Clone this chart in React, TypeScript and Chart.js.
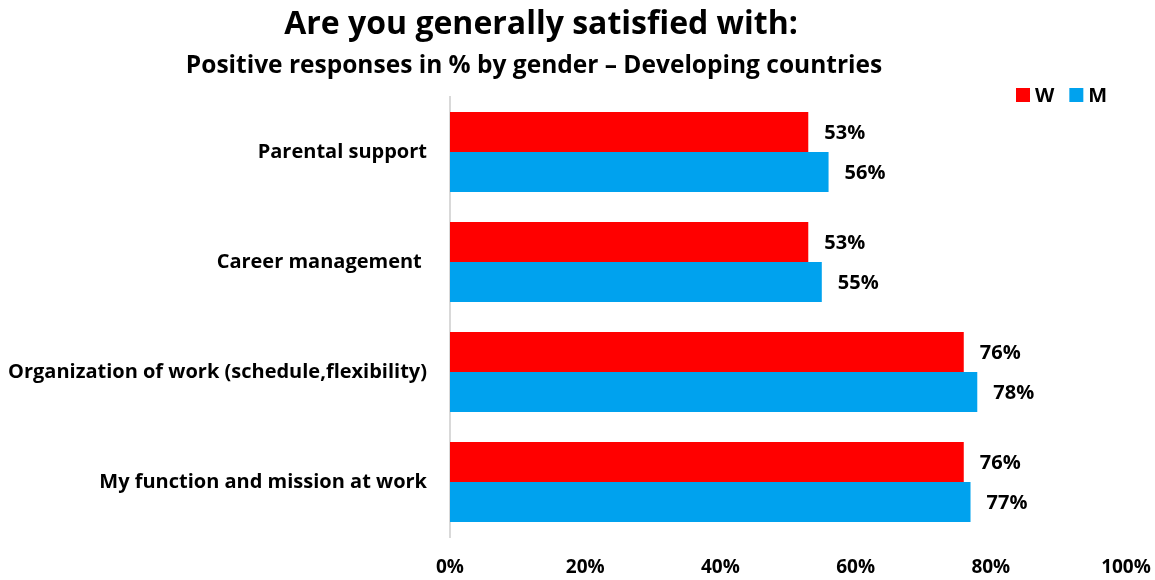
import React, { useEffect, useRef } from "react";
import { Chart, registerables } from "chart.js";

Chart.register(...registerables);

const categories = [
  "Parental support",
  "Career management ",
  "Organization of work (schedule,flexibility)",
  "My function and mission at work",
];
const womenValues = [53, 53, 76, 76];
const menValues = [56, 55, 78, 77];
const seriesLabels = ["W", "M"];
const xTicks = [0, 20, 40, 60, 80, 100];

const titleText = "Are you generally satisfied with:";
const subtitleText = "Positive responses in % by gender \u2013 Developing countries";

const FONT = "'Open Sans', sans-serif";
const RED = "#FF0000";
const BLUE = "#00A2EE";

const titlePlugin = {
  id: "customTitle",
  afterDraw(chart: any) {
    const ctx = chart.ctx;
    ctx.save();
    ctx.fillStyle = "#000";
    ctx.textAlign = "center";
    ctx.textBaseline = "alphabetic";
    ctx.font = `bold 32px ${FONT}`;
    ctx.fillText(titleText, 541, 34);
    ctx.font = `bold 24.5px ${FONT}`;
    ctx.fillText(subtitleText, 534, 73);
    ctx.restore();
  },
};

const legendPlugin = {
  id: "customLegend",
  afterDraw(chart: any) {
    const ctx = chart.ctx;
    ctx.save();
    ctx.font = `bold 20px ${FONT}`;
    ctx.textBaseline = "middle";
    ctx.textAlign = "left";
    let x = 1016;
    const cy = 95;
    chart.data.datasets.forEach((ds: any) => {
      ctx.fillStyle = ds.backgroundColor;
      ctx.fillRect(x, cy - 7, 14, 14);
      x += 19;
      ctx.fillStyle = "#000";
      ctx.fillText(ds.label, x, cy + 1);
      x += ctx.measureText(ds.label).width + 15;
    });
    ctx.restore();
  },
};

const dataLabelPlugin = {
  id: "dataLabels",
  afterDatasetsDraw(chart: any) {
    const ctx = chart.ctx;
    ctx.save();
    ctx.font = `bold 20px ${FONT}`;
    ctx.fillStyle = "#000";
    ctx.textBaseline = "middle";
    ctx.textAlign = "left";
    chart.data.datasets.forEach((ds: any, i: number) => {
      const meta = chart.getDatasetMeta(i);
      meta.data.forEach((bar: any, j: number) => {
        ctx.fillText(`${ds.data[j]}%`, bar.x + 16, bar.y + 1);
      });
    });
    ctx.restore();
  },
};

export default function App() {
  const canvasRef = useRef<HTMLCanvasElement | null>(null);

  useEffect(() => {
    if (!canvasRef.current) return;
    const chart = new Chart(canvasRef.current, {
      type: "bar",
      data: {
        labels: categories,
        datasets: [
          {
            label: seriesLabels[0],
            data: womenValues,
            backgroundColor: RED,
            categoryPercentage: 0.727,
            barPercentage: 1.0,
          },
          {
            label: seriesLabels[1],
            data: menValues,
            backgroundColor: BLUE,
            categoryPercentage: 0.727,
            barPercentage: 1.0,
          },
        ],
      },
      options: {
        indexAxis: "y",
        animation: false,
        responsive: false,
        maintainAspectRatio: false,
        layout: { padding: { top: 97, right: 29, left: 0, bottom: 0 } },
        plugins: {
          legend: { display: false },
          title: { display: false },
          tooltip: { enabled: false },
        },
        scales: {
          x: {
            min: 0,
            max: 100,
            afterBuildTicks(scale: any) {
              scale.ticks = xTicks.map((v) => ({ value: v }));
            },
            afterFit(scale: any) {
              scale.height = 43;
            },
            grid: { display: false, drawTicks: true, tickLength: 19 },
            border: { display: false },
            ticks: {
              padding: 0,
              color: "#000",
              font: { family: FONT, size: 19, weight: "bold" },
              callback: (v: any) => `${v}%`,
              maxRotation: 0,
            },
          },
          y: {
            afterFit(scale: any) {
              scale.width = 450;
            },
            grid: { display: false, drawTicks: false },
            border: { display: true, color: "#D9D9D9", width: 2 },
            ticks: {
              padding: 23,
              color: "#000",
              font: { family: FONT, size: 20, weight: "bold" },
            },
          },
        },
      },
      plugins: [titlePlugin, legendPlugin, dataLabelPlugin],
    } as any);
    return () => chart.destroy();
  }, []);

  return (
    <div style={{ position: "absolute", left: 0, top: 0, width: 1155, height: 580, background: "#fff" }}>
      <canvas ref={canvasRef} width={1155} height={580} style={{ display: "block" }} />
    </div>
  );
}
